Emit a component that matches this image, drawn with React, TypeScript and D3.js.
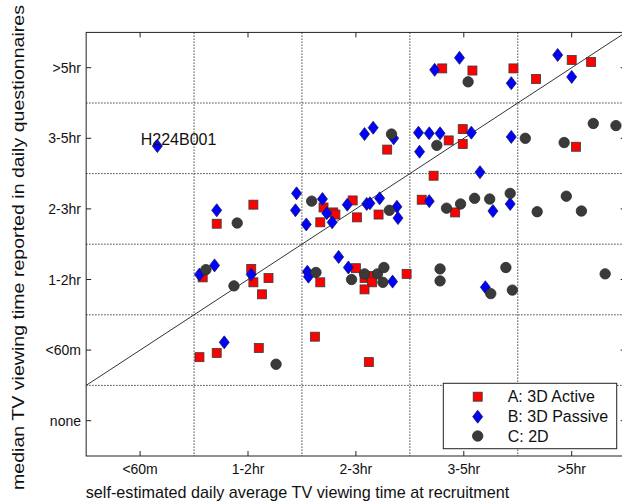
import React from "react";
import * as d3 from "d3";

const xCategories = ["<60m", "1-2hr", "2-3hr", "3-5hr", ">5hr"];
const yCategories = ["none", "<60m", "1-2hr", "2-3hr", "3-5hr", ">5hr"];

// A: 3D Active (x, y) in category units (jittered)
const seriesA: [number, number][] = [
  [2.80, 4.99], [3.08, 4.96], [3.46, 4.99], [3.67, 4.84], [4.00, 5.11], [4.18, 5.08],
  [2.29, 3.84], [2.86, 3.97], [2.99, 4.13], [2.99, 3.92], [4.04, 3.88],
  [0.71, 2.79], [1.05, 3.06], [1.67, 2.81], [1.70, 3.02], [1.79, 2.95], [1.81, 2.92],
  [1.97, 3.12], [2.01, 2.88], [2.21, 2.92], [2.61, 3.13], [2.72, 3.47], [2.92, 2.95],
  [0.58, 2.03], [1.03, 2.15], [1.05, 1.96], [1.13, 1.79], [1.19, 2.02], [1.67, 1.96],
  [2.00, 2.16], [2.08, 2.02], [2.14, 2.05], [2.15, 1.96], [2.08, 1.86], [2.47, 2.08],
  [0.55, 0.90], [0.71, 0.96], [1.10, 1.03], [1.62, 1.19], [2.12, 0.83],
];

// B: 3D Passive
const seriesB: [number, number][] = [
  [2.73, 4.97], [2.96, 5.14], [3.44, 4.78], [3.87, 5.18], [4.00, 4.87],
  [0.16, 3.89], [2.08, 4.06], [2.16, 4.15], [2.35, 4.00], [2.58, 4.08], [2.68, 4.07],
  [2.78, 4.07], [2.59, 3.81], [3.07, 4.08], [3.44, 4.02],
  [0.71, 2.98], [1.45, 3.22], [1.44, 2.98], [1.54, 2.78], [1.69, 3.14], [1.73, 2.94],
  [1.78, 2.81], [1.92, 3.06], [2.10, 3.07], [2.13, 3.08], [2.22, 3.15], [2.38, 3.03],
  [2.39, 2.87], [2.68, 3.11], [3.15, 3.52], [3.27, 2.97], [3.43, 3.07],
  [0.55, 2.07], [0.69, 2.20], [1.03, 2.07], [1.55, 2.11], [1.56, 2.04], [1.84, 2.32],
  [1.93, 2.17], [2.34, 1.97], [3.20, 1.89],
  [0.78, 1.11],
];

// C: 2D
const seriesC: [number, number][] = [
  [3.04, 4.80],
  [2.33, 4.06], [2.75, 3.90], [3.57, 4.00], [3.93, 3.94], [4.20, 4.21], [4.41, 4.18],
  [0.90, 2.80], [1.59, 3.11], [2.31, 2.98], [2.84, 3.01], [2.97, 3.07], [3.10, 3.15],
  [3.24, 3.14], [3.43, 3.22], [3.68, 2.96], [3.95, 3.18], [4.09, 2.97],
  [0.61, 2.14], [0.87, 1.91], [1.63, 2.10], [1.96, 2.00], [2.08, 2.08], [2.20, 2.08],
  [2.26, 2.17], [2.25, 1.96], [2.78, 2.15], [2.78, 1.98], [3.39, 2.17], [3.25, 1.80],
  [3.45, 1.85], [4.31, 2.08],
  [1.26, 0.80],
];

const legendLabels = ["A: 3D Active", "B: 3D Passive", "C: 2D"];
const annotation = { label: "H224B001", x: 0.16, y: 3.89 };

const FONT = "'Liberation Sans', Arial, Helvetica, sans-serif";

const W = 622;
const H = 504;
const left = 86.15;
const right = 625.65;
const top = 32.4;
const bottom = 456;

const x = d3.scaleLinear().domain([-0.5, 4.5]).range([left, right]);
const y = d3.scaleLinear().domain([-0.5, 5.5]).range([bottom, top]);

const SQ = 9;
const DW = 5;
const DH = 6.5;
const CR = 5.2;

function Square({ cx, cy }: { cx: number; cy: number }) {
  return (
    <rect x={cx - SQ / 2} y={cy - SQ / 2} width={SQ} height={SQ} fill="#ff0000" stroke="#3a3a3a" strokeWidth={0.8} />
  );
}
function Diamond({ cx, cy }: { cx: number; cy: number }) {
  const p = `M${cx},${cy - DH}L${cx + DW},${cy}L${cx},${cy + DH}L${cx - DW},${cy}Z`;
  return <path d={p} fill="#0000ff" stroke="#1a1a5a" strokeWidth={0.8} />;
}
function Circle({ cx, cy }: { cx: number; cy: number }) {
  return <circle cx={cx} cy={cy} r={CR} fill="#3a3a3a" stroke="#2a2a2a" strokeWidth={0.8} />;
}

export default function App() {
  const xGrid = [0.5, 1.5, 2.5, 3.5];
  const yGrid = [0.5, 1.5, 2.5, 3.5, 4.5];
  const tick = 5;
  const lx0 = 443.3, ly0 = 383.3, lw = 173.4, lh = 65.4;
  const legendY = [396.7, 416.7, 436];
  const markerX = 477.7;

  return (
    <svg
      width={W}
      height={H}
      style={{ position: "absolute", left: 0, top: 0, background: "#fff" }}
      fontFamily={FONT}
    >
      <rect x={0} y={0} width={W} height={H} fill="#fff" />
      {/* grid */}
      {xGrid.map((g) => (
        <line key={"gx" + g} x1={x(g)} x2={x(g)} y1={top} y2={bottom} stroke="#444" strokeWidth={1} strokeDasharray="1.5,1.5" />
      ))}
      {yGrid.map((g) => (
        <line key={"gy" + g} x1={left} x2={right} y1={y(g)} y2={y(g)} stroke="#444" strokeWidth={1} strokeDasharray="1.5,1.5" />
      ))}
      {/* diagonal y = x + 1 */}
      <line x1={x(-0.5)} y1={y(0.5)} x2={x(4.5)} y2={y(5.5)} stroke="#333" strokeWidth={1} />

      {/* ticks */}
      {xCategories.map((c, i) => (
        <g key={"xt" + c}>
          <line x1={x(i)} x2={x(i)} y1={bottom} y2={bottom - tick} stroke="#222" />
          <line x1={x(i)} x2={x(i)} y1={top} y2={top + tick} stroke="#222" />
          <text x={x(i)} y={474} textAnchor="middle" fontSize={14} fill="#111">{c}</text>
        </g>
      ))}
      {yCategories.map((c, i) => (
        <g key={"yt" + c}>
          <line x1={left} x2={left + tick} y1={y(i)} y2={y(i)} stroke="#222" />
          <line x1={right} x2={right - tick} y1={y(i)} y2={y(i)} stroke="#222" />
          <text x={81} y={y(i)} dy="0.36em" textAnchor="end" fontSize={14} fill="#111">{c}</text>
        </g>
      ))}

      {/* frame */}
      <rect x={left} y={top} width={right - left} height={bottom - top} fill="none" stroke="#222" strokeWidth={1} />

      {/* data */}
      {seriesA.map(([a, b], i) => (
        <Square key={"a" + i} cx={x(a)} cy={y(b)} />
      ))}
      {seriesB.map(([a, b], i) => (
        <Diamond key={"b" + i} cx={x(a)} cy={y(b)} />
      ))}
      {seriesC.map(([a, b], i) => (
        <Circle key={"c" + i} cx={x(a)} cy={y(b)} />
      ))}

      {/* annotation */}
      <text x={x(annotation.x) - 16.6} y={144.5} fontSize={16} fill="#111">{annotation.label}</text>

      {/* legend */}
      <rect x={lx0} y={ly0} width={lw} height={lh} fill="#fff" stroke="#222" strokeWidth={1} />
      <Square cx={markerX} cy={legendY[0]} />
      <Diamond cx={markerX} cy={legendY[1]} />
      <Circle cx={markerX} cy={legendY[2]} />
      {legendLabels.map((l, i) => (
        <text key={l} x={507.7} y={legendY[i]} dy="0.36em" fontSize={16} fill="#111">{l}</text>
      ))}

      {/* axis titles */}
      <text x={(85 + 510) / 2} y={498.3} textAnchor="middle" fontSize={16.2} fill="#111">
        self-estimated daily average TV viewing time at recruitment
      </text>
      <text
        transform={`translate(24,247.5) rotate(-90)`}
        textAnchor="middle"
        fontSize={16.5}
        fill="#111"
        textLength={485}
        lengthAdjust="spacingAndGlyphs"
      >
        median TV viewing time reported in daily questionnaires
      </text>
    </svg>
  );
}
